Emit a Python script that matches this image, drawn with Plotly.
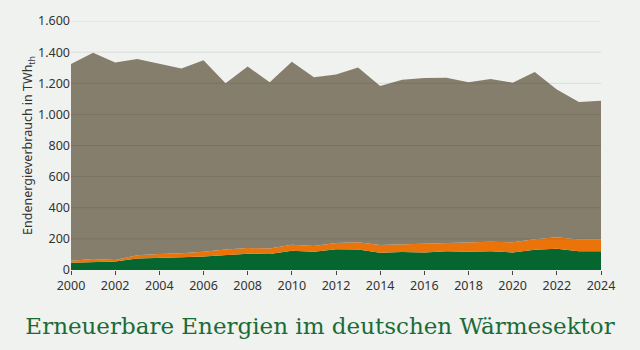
import plotly.graph_objects as go

years = list(range(2000, 2025))
# Values (TWh_th), stacked bottom to top
green = [47, 53, 55, 74, 80, 82, 86, 97, 105, 103, 123, 117, 134, 132, 111, 115, 113, 120, 117, 120, 113, 130, 136, 120, 120]
renew_total = [59, 70, 65, 95, 103, 107, 117, 132, 142, 138, 163, 155, 173, 178, 161, 165, 167, 173, 178, 182, 178, 198, 211, 196, 196]
total = [1323, 1396, 1333, 1356, 1325, 1294, 1348, 1200, 1308, 1206, 1338, 1238, 1256, 1302, 1182, 1223, 1234, 1236, 1206, 1227, 1204, 1273, 1160, 1080, 1088]
orange = [r - g for r, g in zip(renew_total, green)]
gray = [t - r for t, r in zip(total, renew_total)]

y_ticks = [0, 200, 400, 600, 800, 1000, 1200, 1400, 1600]
x_ticks = list(range(2000, 2025, 2))

BG = "#f0f2ef"
fig = go.Figure()
for name, vals, col in [("Erneuerbar (biogen)", green, "#05662f"),
                        ("Erneuerbar (sonstige)", orange, "#ea7409"),
                        ("Nicht erneuerbar", gray, "#857e6c")]:
    fig.add_trace(go.Scatter(x=years, y=vals, name=name, stackgroup="one",
                             mode="lines", line=dict(width=0, color=col),
                             fillcolor=col, showlegend=False))

shapes = []
for v in y_ticks[1:]:
    shapes.append(dict(type="line", xref="paper", yref="y", x0=0, x1=1, y0=v, y1=v,
                       line=dict(color="rgba(0,0,0,0.09)", width=1), layer="above"))

fig.update_layout(
    width=640, height=350,
    paper_bgcolor=BG, plot_bgcolor=BG,
    margin=dict(l=71, r=39, t=13, b=80),
    separators=",.",
    font=dict(family="Noto Sans", size=12, color="#333333"),
    shapes=shapes,
    title=dict(text="Erneuerbare Energien im deutschen Wärmesektor",
               font=dict(family="DejaVu Serif", size=23, color="#1b6b38"),
               x=0.5, xanchor="center", xref="container",
               y=1 - 326 / 350, yanchor="middle", yref="container"),
    xaxis=dict(range=[2000, 2024], tickvals=x_ticks, showgrid=False, zeroline=False,
               ticks="outside", ticklen=4, tickcolor="#444444", showline=False,
               tickfont=dict(size=12.5, color="#333333")),
    yaxis=dict(range=[0, 1600], tickvals=y_ticks, tickformat=",d", showgrid=False,
               zeroline=False, ticks="", showline=False,
               tickfont=dict(size=12.5, color="#333333"),
               title=dict(text="Endenergieverbrauch in TWh<sub>th</sub>",
                          font=dict(size=12.5, color="#333333"), standoff=1)),
)

fig.write_html("out.html")
